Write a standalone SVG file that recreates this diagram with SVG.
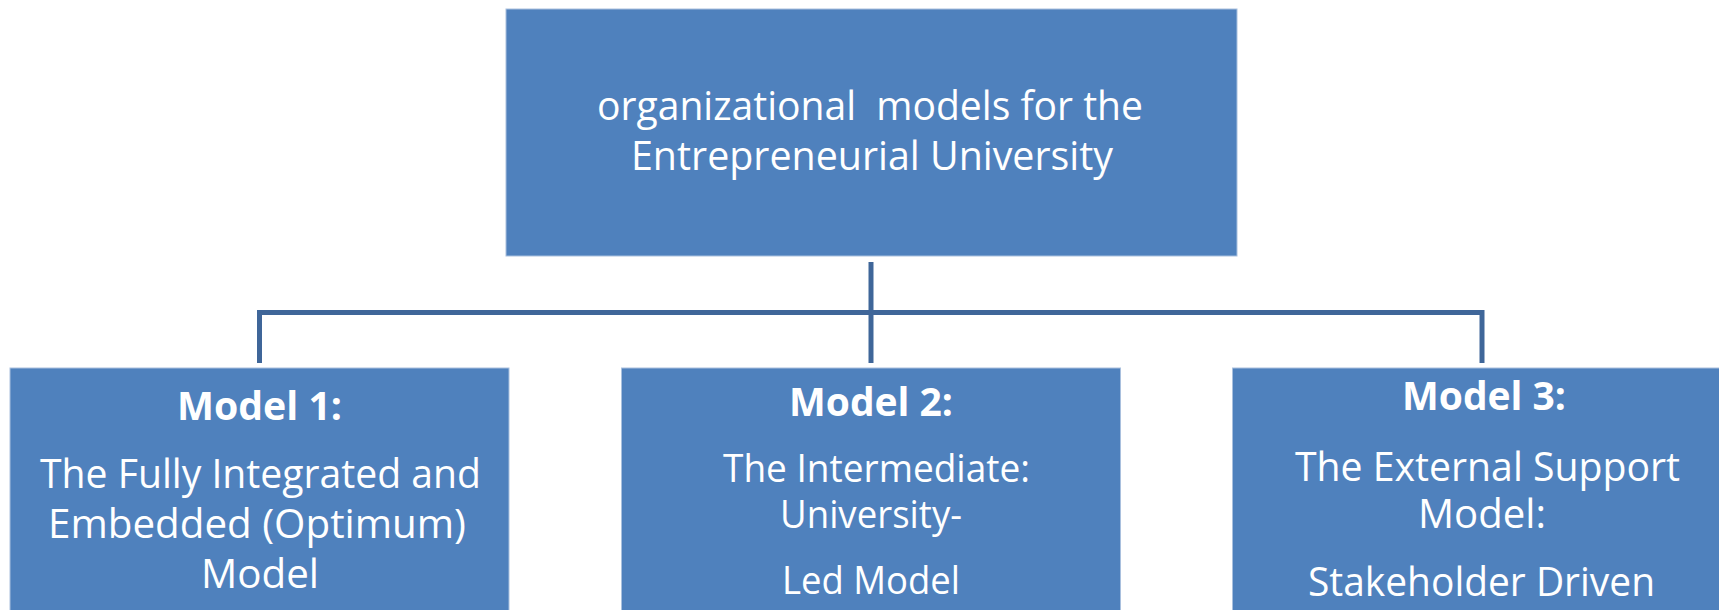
<svg xmlns="http://www.w3.org/2000/svg" width="1719" height="610" viewBox="0 0 1719 610">
<style>
.box{fill:#4F81BD;stroke:#A9C0DE;stroke-width:1}
.t{font-family:"Open Sans","Noto Sans","Liberation Sans",sans-serif;font-size:40px;fill:#FFFFFF}
.s{font-size:37.5px}
.b{font-weight:bold}
.pre{white-space:pre}
.conn{fill:none;stroke:#3F6699;stroke-width:5;stroke-linejoin:miter}
</style>
<rect width="1719" height="610" fill="#FFFFFF"/>
<g id="connectors">
<line class="conn" x1="871" y1="262" x2="871" y2="363"/>
<polyline class="conn" points="259.5,363 259.5,312.5 1482,312.5 1482,363"/>
</g>
<g id="root">
<rect class="box" x="506" y="9" width="731" height="247"/>
<text class="t pre" x="597" y="120" textLength="546" lengthAdjust="spacingAndGlyphs" xml:space="preserve">organizational  models for the</text>
<text class="t" x="631" y="170" textLength="482" lengthAdjust="spacingAndGlyphs">Entrepreneurial University</text>
</g>
<g id="model1">
<rect class="box" x="10" y="368" width="499" height="260"/>
<text class="t b" x="177" y="420" textLength="165" lengthAdjust="spacingAndGlyphs">Model 1:</text>
<text class="t" x="40" y="488" textLength="441" lengthAdjust="spacingAndGlyphs">The Fully Integrated and</text>
<text class="t" x="48" y="538" textLength="418" lengthAdjust="spacingAndGlyphs">Embedded (Optimum)</text>
<text class="t" x="201" y="588" textLength="118" lengthAdjust="spacingAndGlyphs">Model</text>
</g>
<g id="model2">
<rect class="box" x="621.5" y="368" width="499" height="260"/>
<text class="t b" x="789" y="415.5" textLength="164" lengthAdjust="spacingAndGlyphs">Model 2:</text>
<text class="t s" x="723" y="481.5" textLength="307" lengthAdjust="spacingAndGlyphs">The Intermediate:</text>
<text class="t s" x="780" y="527.5" textLength="182" lengthAdjust="spacingAndGlyphs">University-</text>
<text class="t s" x="782" y="594" textLength="178" lengthAdjust="spacingAndGlyphs">Led Model</text>
</g>
<g id="model3">
<rect class="box" x="1232.5" y="368" width="510" height="260"/>
<text class="t b" x="1402" y="410" textLength="164" lengthAdjust="spacingAndGlyphs">Model 3:</text>
<text class="t" x="1295" y="480.5" textLength="385" lengthAdjust="spacingAndGlyphs">The External Support</text>
<text class="t" x="1418" y="528" textLength="128" lengthAdjust="spacingAndGlyphs">Model:</text>
<text class="t" x="1308" y="596" textLength="347" lengthAdjust="spacingAndGlyphs">Stakeholder Driven</text>
</g>
</svg>
